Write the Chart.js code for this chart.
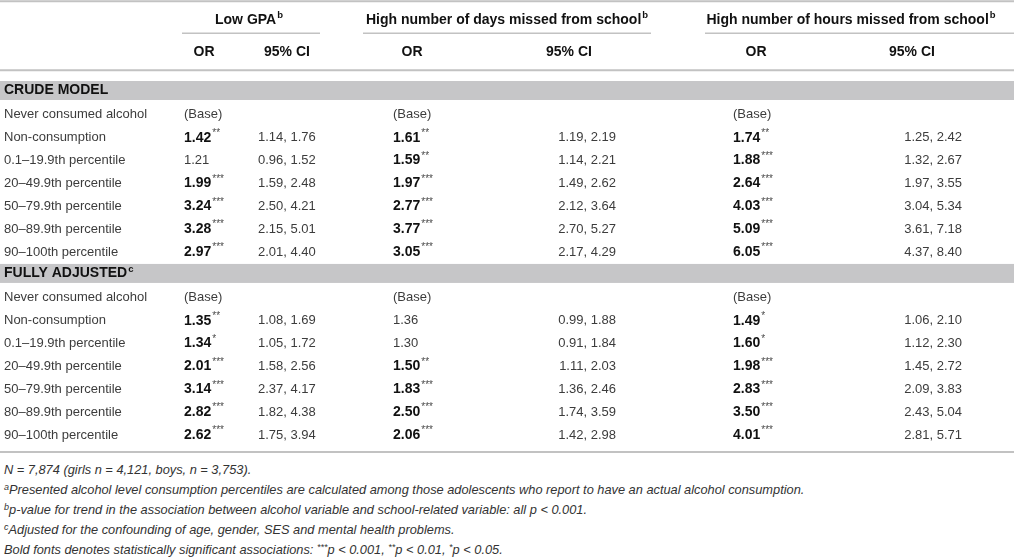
<!DOCTYPE html>
<html>
<head>
<meta charset="utf-8">
<title>Alcohol consumption and school outcomes</title>
<script src="https://cdn.jsdelivr.net/npm/chart.js@4.4.1/dist/chart.umd.min.js"></script>
<style>
  body { margin: 0; background: #fff; font-family: "Liberation Sans", Arial, sans-serif; }
  #wrap { position: relative; width: 1014px; height: 460px; }
  .notes { font-style: italic; font-size: 12.8px; line-height: 20px; color: #333; padding-left: 4px; margin-top: 0; }
  .notes sup { font-size: 9px; vertical-align: 4px; line-height: 0; }
</style>
</head>
<body>
<div id="wrap"><canvas id="tbl"></canvas></div>
<div class="notes">
  <div>N = 7,874 (girls n = 4,121, boys, n = 3,753).</div>
  <div><sup>a</sup>Presented alcohol level consumption percentiles are calculated among those adolescents who report to have an actual alcohol consumption.</div>
  <div><sup>b</sup>p-value for trend in the association between alcohol variable and school-related variable: all p &lt; 0.001.</div>
  <div><sup>c</sup>Adjusted for the confounding of age, gender, SES and mental health problems.</div>
  <div>Bold fonts denotes statistically significant associations: <sup>***</sup>p &lt; 0.001, <sup>**</sup>p &lt; 0.01, <sup>*</sup>p &lt; 0.05.</div>
</div>
<script>
// rows and headings
var rowLabels = ['Never consumed alcohol', 'Non-consumption', '0.1–19.9th percentile', '20–49.9th percentile',
                 '50–79.9th percentile', '80–89.9th percentile', '90–100th percentile'];
var outcomes = ['Low GPA', 'High number of days missed from school', 'High number of hours missed from school'];
var models = ['CRUDE MODEL', 'FULLY ADJUSTED'];
var modelNotes = ['', 'c'];

// crude model (null = base category)
var gpaCrudeOR    = [null, 1.42, 1.21, 1.99, 3.24, 3.28, 2.97];
var gpaCrudeSig   = ['', '**', '', '***', '***', '***', '***'];
var gpaCrudeCI    = [null, [1.14, 1.76], [0.96, 1.52], [1.59, 2.48], [2.50, 4.21], [2.15, 5.01], [2.01, 4.40]];
var daysCrudeOR   = [null, 1.61, 1.59, 1.97, 2.77, 3.77, 3.05];
var daysCrudeSig  = ['', '**', '**', '***', '***', '***', '***'];
var daysCrudeCI   = [null, [1.19, 2.19], [1.14, 2.21], [1.49, 2.62], [2.12, 3.64], [2.70, 5.27], [2.17, 4.29]];
var hoursCrudeOR  = [null, 1.74, 1.88, 2.64, 4.03, 5.09, 6.05];
var hoursCrudeSig = ['', '**', '***', '***', '***', '***', '***'];
var hoursCrudeCI  = [null, [1.25, 2.42], [1.32, 2.67], [1.97, 3.55], [3.04, 5.34], [3.61, 7.18], [4.37, 8.40]];

// fully adjusted model
var gpaAdjOR    = [null, 1.35, 1.34, 2.01, 3.14, 2.82, 2.62];
var gpaAdjSig   = ['', '**', '*', '***', '***', '***', '***'];
var gpaAdjCI    = [null, [1.08, 1.69], [1.05, 1.72], [1.58, 2.56], [2.37, 4.17], [1.82, 4.38], [1.75, 3.94]];
var daysAdjOR   = [null, 1.36, 1.30, 1.50, 1.83, 2.50, 2.06];
var daysAdjSig  = ['', '', '', '**', '***', '***', '***'];
var daysAdjCI   = [null, [0.99, 1.88], [0.91, 1.84], [1.11, 2.03], [1.36, 2.46], [1.74, 3.59], [1.42, 2.98]];
var hoursAdjOR  = [null, 1.49, 1.60, 1.98, 2.83, 3.50, 4.01];
var hoursAdjSig = ['', '*', '*', '***', '***', '***', '***'];
var hoursAdjCI  = [null, [1.06, 2.10], [1.12, 2.30], [1.45, 2.72], [2.09, 3.83], [2.43, 5.04], [2.81, 5.71]];

var orByOutcome  = [[gpaCrudeOR, gpaAdjOR], [daysCrudeOR, daysAdjOR], [hoursCrudeOR, hoursAdjOR]];
var sigByOutcome = [[gpaCrudeSig, gpaAdjSig], [daysCrudeSig, daysAdjSig], [hoursCrudeSig, hoursAdjSig]];
var ciByOutcome  = [[gpaCrudeCI, gpaAdjCI], [daysCrudeCI, daysAdjCI], [hoursCrudeCI, hoursAdjCI]];

// layout (x in page px on a 0..1014 axis, y in row units)
var labelX = 4;
var orX = [184, 393, 733];
var ciX = [258, 616, 962], ciAlign = ['left', 'right', 'right'];
var headX = [249, 507, 851], orHeadX = [204, 412, 756], ciHeadX = [287, 569, 912];
var groupSpan = [[182, 320], [363, 651], [705, 1014]];
var modelRow = [0, 8];
var headerRow = -3.16, subHeaderRow = -1.76;
var topRule = -3.97, groupRule = -2.57, headRule = -0.95, bottomRule = 15.74;

var FONT = '"Liberation Sans", Arial, sans-serif';

function fmt(v) { return v.toFixed(2); }

// build cells
var labelCells = [], headCells = [];
models.forEach(function (m, k) {
  labelCells.push({ x: labelX, y: modelRow[k], text: m, sup: modelNotes[k], supBold: true, bold: true, align: 'left', dy: -1.5 });
  rowLabels.forEach(function (lab, r) {
    labelCells.push({ x: labelX, y: modelRow[k] + 1 + r, text: lab, align: 'left' });
  });
});
outcomes.forEach(function (o, i) {
  headCells.push({ x: headX[i], y: headerRow, text: o, sup: 'b', supBold: true, bold: true, align: 'center' });
  headCells.push({ x: orHeadX[i], y: subHeaderRow, text: 'OR', bold: true, align: 'center' });
  headCells.push({ x: ciHeadX[i], y: subHeaderRow, text: '95% CI', bold: true, align: 'center' });
});

var datasets = [
  { label: 'rows', data: labelCells },
  { label: 'headers', data: headCells }
];
outcomes.forEach(function (o, i) {
  var orCells = [], ciCells = [];
  models.forEach(function (m, k) {
    orByOutcome[i][k].forEach(function (v, r) {
      var y = modelRow[k] + 1 + r;
      var sig = sigByOutcome[i][k][r];
      orCells.push({ x: orX[i], y: y, text: v === null ? '(Base)' : fmt(v), sup: sig, bold: sig !== '', align: 'left' });
      var ci = ciByOutcome[i][k][r];
      if (ci) ciCells.push({ x: ciX[i], y: y, text: fmt(ci[0]) + ', ' + fmt(ci[1]), align: ciAlign[i] });
    });
  });
  datasets.push({ label: o + ' OR', data: orCells });
  datasets.push({ label: o + ' CI', data: ciCells });
});

function drawCell(ctx, px, py, c) {
  var font = c.bold ? 'bold 14px ' + FONT : '13px ' + FONT;
  var supFont = (c.supBold ? 'bold 9.5px ' : '10px ') + FONT;
  py += c.dy || 0;
  ctx.font = font;
  var w = ctx.measureText(c.text).width;
  var sw = 0;
  if (c.sup) { ctx.font = supFont; sw = ctx.measureText(c.sup).width + 1; }
  var left = px;
  if (c.align === 'center') left = px - (w + sw) / 2;
  else if (c.align === 'right') left = px - w - sw;
  ctx.textAlign = 'left';
  ctx.textBaseline = 'middle';
  ctx.font = font;
  ctx.fillStyle = c.bold ? '#111' : '#3c3c3c';
  ctx.fillText(c.text, left, py);
  if (c.sup) {
    ctx.font = supFont;
    ctx.fillStyle = c.supBold ? '#111' : '#4a4a4a';
    ctx.fillText(c.sup, left + w + 1, py - 4.5);
  }
}

var tablePlugin = {
  id: 'tableText',
  beforeDatasetsDraw: function (chart) {
    var ctx = chart.ctx, xs = chart.scales.x, ys = chart.scales.y;
    ctx.save();
    // section bands
    ctx.fillStyle = '#c6c6c8';
    modelRow.forEach(function (r) {
      var py = ys.getPixelForValue(r);
      ctx.fillRect(xs.left, py - 11, xs.right - xs.left, 19);
    });
    // horizontal rules
    ctx.strokeStyle = '#c2c2c2';
    ctx.lineWidth = 2;
    [topRule, headRule, bottomRule].forEach(function (r) {
      var py = ys.getPixelForValue(r);
      ctx.beginPath(); ctx.moveTo(xs.left, py); ctx.lineTo(xs.right, py); ctx.stroke();
    });
    ctx.lineWidth = 1.5;
    groupSpan.forEach(function (s) {
      var py = ys.getPixelForValue(groupRule);
      ctx.beginPath(); ctx.moveTo(xs.getPixelForValue(s[0]), py); ctx.lineTo(xs.getPixelForValue(s[1]), py); ctx.stroke();
    });
    ctx.restore();
  },
  afterDatasetsDraw: function (chart) {
    var ctx = chart.ctx;
    ctx.save();
    chart.data.datasets.forEach(function (ds, i) {
      chart.getDatasetMeta(i).data.forEach(function (pt, j) {
        drawCell(ctx, pt.x, pt.y, ds.data[j]);
      });
    });
    ctx.restore();
  }
};

new Chart(document.getElementById('tbl').getContext('2d'), {
  type: 'scatter',
  data: { datasets: datasets },
  options: {
    responsive: true,
    maintainAspectRatio: false,
    animation: false,
    events: [],
    layout: { padding: { top: 92, bottom: 25, left: 0, right: 0 } },
    elements: { point: { radius: 0, hoverRadius: 0 } },
    plugins: { legend: { display: false }, tooltip: { enabled: false } },
    scales: {
      x: { type: 'linear', display: false, min: 0, max: 1014 },
      y: { type: 'linear', display: false, min: 0, max: 15, reverse: true }
    }
  },
  plugins: [tablePlugin]
});
</script>
</body>
</html>
